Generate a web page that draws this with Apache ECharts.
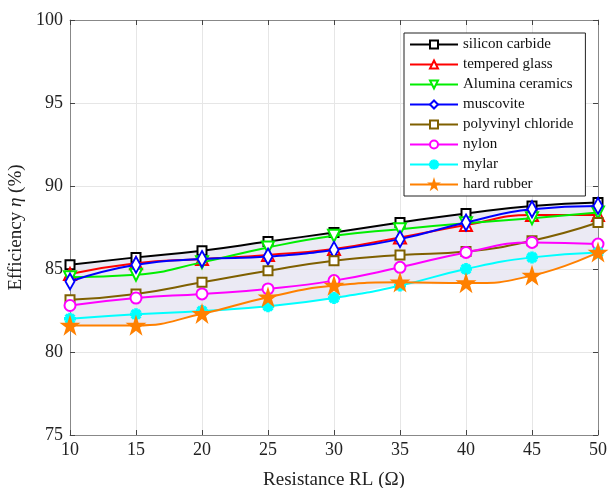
<!DOCTYPE html>
<html><head><meta charset="utf-8">
<script src="https://cdn.jsdelivr.net/npm/echarts@6/dist/echarts.min.js"></script>
<style>html,body{margin:0;padding:0;background:#fff}#c{width:611px;height:488px}</style>
</head><body><div id="c"></div>
<script>
const resistance = [10, 15, 20, 25, 30, 35, 40, 45, 50];
const xTicks = [10, 15, 20, 25, 30, 35, 40, 45, 50];
const yTicks = [75, 80, 85, 90, 95, 100];

const seriesNames = ['silicon carbide','tempered glass','Alumina ceramics','muscovite','polyvinyl chloride','nylon','mylar','hard rubber'];
const siliconCarbide    = [85.25, 85.7, 86.1, 86.65, 87.2, 87.8, 88.35, 88.8, 89.0];
const temperedGlass     = [84.7, 85.35, 85.6, 85.85, 86.2, 86.9, 87.65, 88.25, 88.25];
const aluminaCeramics   = [84.5, 84.65, 85.4, 86.3, 87.0, 87.4, 87.75, 88.05, 88.4];
const muscovite         = [84.25, 85.25, 85.6, 85.75, 86.15, 86.8, 87.8, 88.6, 88.8];
const polyvinylChloride = [83.15, 83.5, 84.2, 84.9, 85.5, 85.85, 86.05, 86.7, 87.8];
const nylon             = [82.8, 83.25, 83.5, 83.8, 84.3, 85.1, 86.0, 86.6, 86.5];
const mylar             = [82.0, 82.27, 82.47, 82.75, 83.25, 84.0, 85.0, 85.7, 86.0];
const hardRubber        = [81.6, 81.6, 82.3, 83.3, 84.0, 84.2, 84.15, 84.6, 86.0];

const allSeries = [siliconCarbide, temperedGlass, aluminaCeramics, muscovite, polyvinylChloride, nylon, mylar, hardRubber];
const colors = ['#000000','#ff0000','#00ee00','#0000ff','#7f6000','#ff00ff','#00ffff','#ff8000'];

const starPath = 'path://M50,0 L61.8,36.3 L100,36.3 L69.1,58.8 L80.9,95.1 L50,72.6 L19.1,95.1 L30.9,58.8 L0,36.3 L38.2,36.3 Z';
const asteriskPath = 'path://M42,0 L58,0 L58,100 L42,100 Z M0,42 L100,42 L100,58 L0,58 Z M9,20 L20,9 L91,80 L80,91 Z M80,9 L91,20 L20,91 L9,80 Z';
const symbols = [
  {symbol:'rect', size:9, fill:'#fff'},
  {symbol:'triangle', size:12, fill:'#fff'},
  {symbol:'triangle', size:12, fill:'#fff', rotate:180},
  {symbol:'diamond', size:[9,16], fill:'#fff'},
  {symbol:'rect', size:9, fill:'#fff'},
  {symbol:'circle', size:11, fill:'#fff'},
  {symbol:asteriskPath, size:10, fill:'#00ffff'},
  {symbol:starPath, size:15, fill:'#ff8000'}
];

const pairs = a => resistance.map((x,i)=>[x,a[i]]);
const bandLow = resistance.map((x,i)=>Math.min(...allSeries.map(s=>s[i])));
const bandHigh = resistance.map((x,i)=>Math.max(...allSeries.map(s=>s[i])));

const font = 'Liberation Serif';
const series = [
  {name:'bandHigh', type:'line', smooth:true, symbol:'none', silent:true,
   lineStyle:{width:0, opacity:0}, areaStyle:{color:'#ebeaf4', opacity:1, origin:'start'},
   data:pairs(bandHigh), z:-2},
  {name:'bandLow', type:'line', smooth:true, symbol:'none', silent:true,
   lineStyle:{width:0, opacity:0}, areaStyle:{color:'#ffffff', opacity:1, origin:'start'},
   data:pairs(bandLow), z:-1}
];
seriesNames.forEach((n,k)=>{
  const s = symbols[k];
  series.push({
    name:n, type:'line', smooth:true, data:pairs(allSeries[k]),
    symbol:s.symbol, symbolSize:s.size, symbolRotate:s.rotate||0, showAllSymbol:true,
    lineStyle:{color:colors[k], width:2},
    itemStyle:{color:s.fill, borderColor:colors[k], borderWidth:2},
    z:3+k, animation:false
  });
});

const chart = echarts.init(document.getElementById('c'), null, {renderer:'canvas'});
chart.setOption({
  animation:false,
  backgroundColor:'#fff',
  color:colors,
  grid:{left:70, right:13, top:20, bottom:53, outerBoundsMode:'none', containLabel:false},
  legend:{
    data:seriesNames, orient:'vertical', left:404, top:33,
    backgroundColor:'#fff', borderColor:'#222', borderWidth:1,
    padding:[4,12,4,5], itemGap:5, itemWidth:48, itemHeight:10,
    textStyle:{fontFamily:font, fontSize:15, color:'#111'}
  },
  xAxis:[{
    type:'value', min:10, max:50, interval:5,
    name:'Resistance RL (Ω)', nameLocation:'middle', nameGap:36,
    nameTextStyle:{fontFamily:font, fontSize:19, color:'#222'},
    axisLine:{lineStyle:{color:'#888'}},
    axisTick:{inside:true, length:5, lineStyle:{color:'#444'}},
    axisLabel:{fontFamily:font, fontSize:18, color:'#222', margin:6,
      formatter:v=>xTicks.includes(v)?String(v):''},
    splitLine:{show:true, lineStyle:{color:'#e6e6e6'}}
  },{
    type:'value', position:'top', min:10, max:50, interval:5,
    axisLine:{show:true, lineStyle:{color:'#888'}},
    axisTick:{inside:true, length:5, lineStyle:{color:'#444'}},
    axisLabel:{show:false}, splitLine:{show:false}
  }],
  yAxis:[{
    type:'value', min:75, max:100, interval:5,
    name:'{a|Efficiency }{i|η}{a| (%)}', nameLocation:'middle', nameGap:36,
    nameTextStyle:{rich:{a:{fontFamily:font, fontSize:19, color:'#222'}, i:{fontFamily:font, fontSize:19, fontStyle:'italic', color:'#222'}}},
    axisLine:{show:true, lineStyle:{color:'#888'}},
    axisTick:{show:true, inside:true, length:5, lineStyle:{color:'#444'}},
    axisLabel:{fontFamily:font, fontSize:18, color:'#222', margin:7,
      formatter:v=>yTicks.includes(v)?String(v):''},
    splitLine:{show:true, lineStyle:{color:'#e6e6e6'}}
  },{
    type:'value', position:'right', min:75, max:100, interval:5,
    axisLine:{show:true, lineStyle:{color:'#888'}},
    axisTick:{show:true, inside:true, length:5, lineStyle:{color:'#444'}},
    axisLabel:{show:false}, splitLine:{show:false}
  }],
  series:series
});
</script></body></html>
